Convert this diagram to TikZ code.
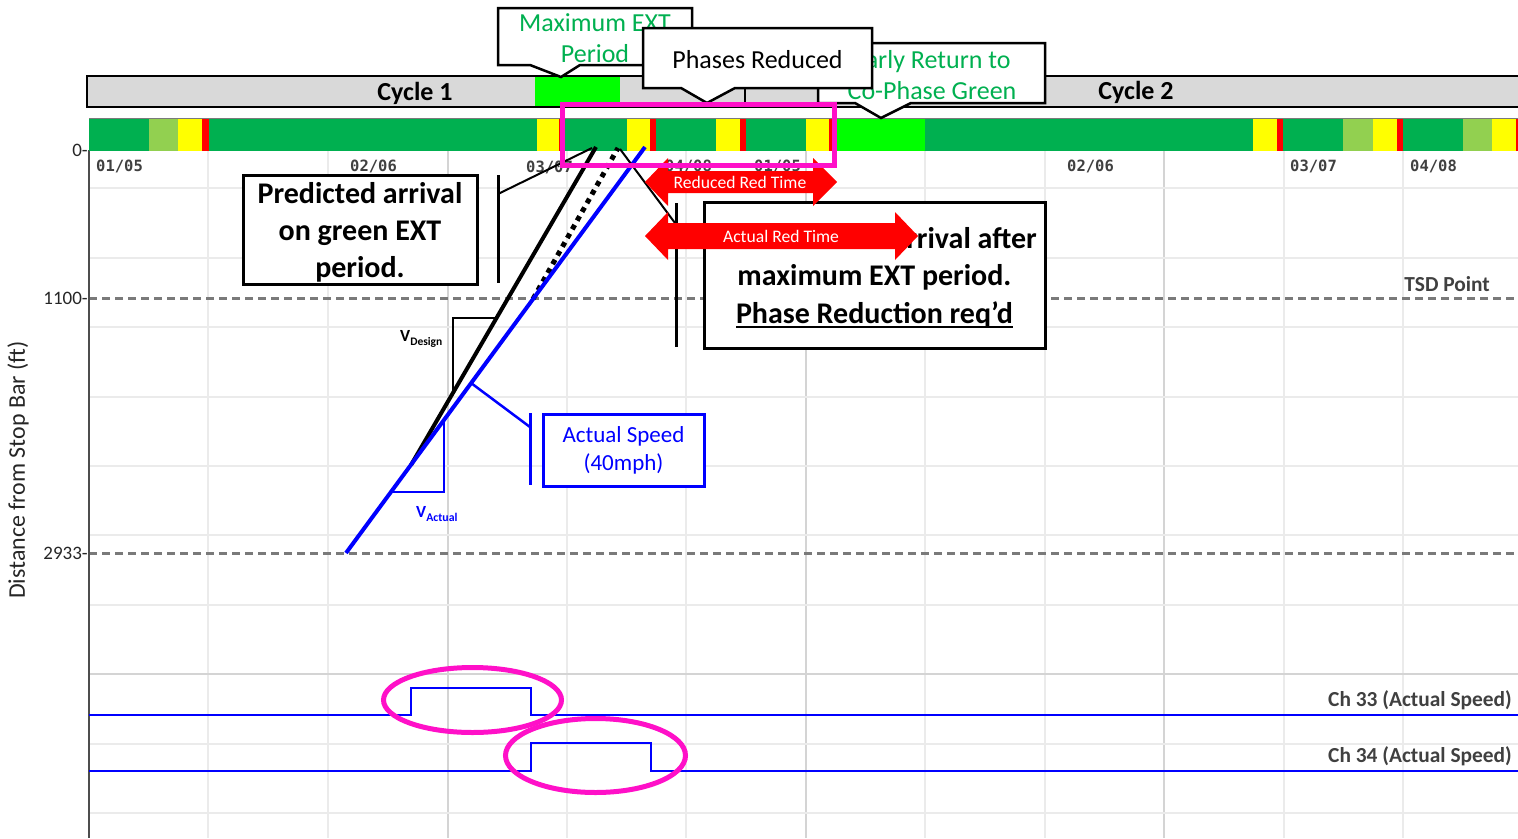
\documentclass[tikz,border=0pt]{standalone}
\usepackage{fontspec}
\setmainfont{Carlito}
\newfontfamily\datefont{DejaVu Sans Mono}
\definecolor{sgG}{HTML}{00B050}
\definecolor{sgL}{HTML}{92D050}
\definecolor{sgY}{HTML}{FFFF00}
\definecolor{sgR}{HTML}{FF0000}
\definecolor{sgB}{HTML}{00FF00}
\definecolor{barGray}{HTML}{D9D9D9}
\definecolor{gridLight}{HTML}{EBEBEB}
\definecolor{gridDark}{HTML}{D4D4D4}
\definecolor{labGray}{HTML}{404040}
\definecolor{axisGray}{HTML}{4D4D4D}
\definecolor{dashGray}{HTML}{7A7A7A}
\definecolor{hot}{RGB}{255,16,200}
\definecolor{txtGreen}{HTML}{00B050}
\definecolor{vblue}{HTML}{0000FF}
\newsavebox\ulbox
\newcommand\ulinetext[1]{\sbox\ulbox{#1}\rlap{\rule[-5pt]{\wd\ulbox}{2.4pt}}\usebox\ulbox}
\tikzset{
  gridline/.style={draw=gridLight, line width=1.3},
  gridmajor/.style={draw=gridDark, line width=1.5},
  tsdline/.style={draw=dashGray, line width=3, dash pattern=on 8pt off 5pt},
  ticklab/.style={anchor=east, inner sep=0, text=black!85, font=\fontsize{19}{19}\selectfont},
  cyclab/.style={inner sep=0, font=\bfseries\fontsize{26}{26}\selectfont},
  datelab/.style={anchor=west, inner sep=0, text=labGray, font=\datefont\bfseries\fontsize{15.5}{15.5}\selectfont},
  chanlab/.style={anchor=east, inner sep=0, text=labGray, font=\bfseries\fontsize{21.4}{21.4}\selectfont},
  callout/.style={draw=black, fill=white, line width=2.5, line join=miter},
  calltext/.style={align=center, inner sep=0, font=\fontsize{26}{31}\selectfont},
  notebox/.style={draw=black, fill=white, line width=3, inner sep=0, align=center,
                  font=\bfseries\fontsize{30}{37}\selectfont},
  redarrow/.style={fill=sgR},
  redtext/.style={inner sep=0, text=white, font=\fontsize{17.6}{17.6}\selectfont},
  hilite/.style={draw=hot, line width=5},
  thinline/.style={line width=1.3},
  pulse/.style={draw=vblue, line width=2.6},
}
\begin{document}
\begin{tikzpicture}[x=1pt,y=-1pt]
\useasboundingbox (0,0) rectangle (1518,838);
\fill[white] (0,0) rectangle (1518,838);

% chart grid
\foreach \gx in {208,328,567,686,925,1045,1284,1403}
  \draw[gridline] (\gx,151) -- (\gx,838);
\foreach \gx in {448,806,1164}
  \draw[gridmajor] (\gx,151) -- (\gx,838);
\foreach \gy in {188,258,327,397,466,535,605,744,813}
  \draw[gridline] (89,\gy) -- (1518,\gy);
\draw[gridmajor] (89,674) -- (1518,674);

% distance markers
\draw[tsdline] (89,298) -- (1518,298);
\draw[tsdline] (89,553) -- (1518,553);

% vertical axis
\draw[axisGray, line width=2] (89,150) -- (89,838);
\node[ticklab] (t0) at (88,150) {0-};
\node[ticklab] (t1100) at (88,298) {1100-};
\node[ticklab] (t2933) at (88,553) {2933-};
\node[rotate=90, inner sep=0, text=black!85, font=\fontsize{23.9}{23.9}\selectfont] (ytitle) at (18,470) {Distance from Stop Bar (ft)};

% cycle bar
\draw[fill=barGray, line width=2] (87,76) rectangle (1530,107);
\fill[sgB] (535,77) rectangle (620,106);
\draw[line width=1.5] (745,76) -- (745,107);
\draw[line width=1.5] (818,76) -- (818,107);
\node[cyclab] (cyc1) at (415,93) {Cycle 1};
\node[cyclab] (cyc2) at (1136,92) {Cycle 2};

% signal state bar
\draw[dashGray, line width=1] (89,118.5) -- (1518,118.5);
\foreach \xa/\xb/\sc in {89/149/sgG,149/178/sgL,178/202/sgY,202/209/sgR,209/537/sgG,
    537/559/sgY,559/562/sgR,562/627/sgG,627/650/sgY,650/656/sgR,656/716/sgG,716/740/sgY,
    740/746/sgR,746/806/sgG,806/829/sgY,829/833/sgR,833/925/sgB,925/1253/sgG,1253/1277/sgY,
    1277/1283/sgR,1283/1343/sgG,1343/1373/sgL,1373/1397/sgY,1397/1403/sgR,1403/1463/sgG,
    1463/1492/sgL,1492/1516/sgY,1516/1518/sgR}
  \fill[\sc] (\xa,119) rectangle (\xb,151);

% phase labels
\node[datelab] (d1) at (96,166.5) {01/05};
\node[datelab] (d2) at (350,166.5) {02/06};
\node[datelab] (d3) at (526,167.5) {03/07};
\node[datelab] (d4) at (665,166.5) {04/08};
\node[datelab] (d5) at (754,166.5) {01/05};
\node[datelab] (d6) at (1067,166.5) {02/06};
\node[datelab] (d7) at (1290,166.5) {03/07};
\node[datelab] (d8) at (1410,166.5) {04/08};

% distance labels
\node[chanlab, anchor=east] (tsd) at (1490,284) {TSD Point};

% trajectories
\coordinate (actStart) at (346,553);
\coordinate (actEnd) at (645,147);
\coordinate (desStart) at (411,465);
\coordinate (desEnd) at (596,147);
\coordinate (dotStart) at (533,299);
\coordinate (dotEnd) at (618,148);
\draw[line width=4] (desStart) -- (desEnd);
\draw[line width=5, dash pattern=on 5pt off 5pt] (dotStart) -- (dotEnd);
\draw[vblue, line width=4] (actStart) -- (actEnd);

% speed triangles
\draw[thinline] (496,318) -- (453,318) -- (453,393);
\draw[thinline, vblue] (444,420) -- (444,492) -- (391,492);
\node[anchor=west, inner sep=0, font=\bfseries\fontsize{17}{17}\selectfont] (vdes) at (400,339)
  {V\raisebox{-3.5pt}{\fontsize{11.5}{11.5}\selectfont Design}};
\node[anchor=west, inner sep=0, text=vblue, font=\bfseries\fontsize{17}{17}\selectfont] (vact) at (416,514)
  {V\raisebox{-3.5pt}{\fontsize{11.8}{11.8}\selectfont Actual}};

% predicted arrival note
\node[notebox, minimum width=234, minimum height=109] (pred) at (360,229.5) {};
\node[inner sep=0, align=center, font=\bfseries\fontsize{30}{37}\selectfont] (predtxt) at (360,232.5)
  {Predicted arrival\\on green EXT\\period.};
\coordinate (predBrTop) at (498,175);
\coordinate (predBrBot) at (498,283);
\coordinate (predBrMid) at (498,194);
\draw[line width=3] (predBrTop) -- (predBrBot);
\draw[line width=2] (predBrMid) -- (592,148);

% late arrival note
\node[notebox, minimum width=341, minimum height=146] (late) at (874.5,275) {};
\node[inner sep=0, align=center, font=\bfseries\fontsize{30}{37.5}\selectfont] (latetxt) at (874.5,277.5)
  {Predicted late arrival after\\maximum EXT period.\\\ulinetext{Phase Reduction req’d}};
\coordinate (lateBrTop) at (676,203);
\coordinate (lateBrBot) at (676,347);
\coordinate (lateBrMid) at (675,223);
\draw[line width=3] (lateBrTop) -- (lateBrBot);
\draw[line width=2] (dotEnd) ++(2,1) -- (lateBrMid);

% actual speed note
\node[draw=vblue, line width=3, fill=white, minimum width=161, minimum height=72, inner sep=0,
      align=center, text=vblue, font=\fontsize{23}{28}\selectfont] (speed) at (623.5,450.5)
  {Actual Speed\\(40mph)};
\coordinate (spdBrTop) at (530,413);
\coordinate (spdBrBot) at (530,485);
\coordinate (spdBrMid) at (530,427);
\coordinate (spdOnLine) at (471,383);
\draw[vblue, line width=3] (spdBrTop) -- (spdBrBot);
\draw[vblue, line width=2.5] (spdBrMid) -- (spdOnLine);

% red time arrows
\fill[redarrow] (645,182) -- (668,158) -- (668,171) -- (813,171) -- (813,158) -- (837,182)
  -- (813,206) -- (813,193) -- (668,193) -- (668,206) -- cycle;
\node[redtext] (redRed) at (740,182) {Reduced Red Time};
\fill[redarrow] (645,236) -- (668,212) -- (668,223) -- (895,223) -- (895,212) -- (918,236)
  -- (895,260) -- (895,249) -- (668,249) -- (668,260) -- cycle;
\node[redtext] (actRed) at (781,236) {Actual Red Time};

% callouts over the cycle bar
\draw[callout] (498,8) -- (692,8) -- (692,65) -- (580,65) -- (561,77) -- (530,65) -- (498,65) -- cycle;
\node[calltext, text=txtGreen] (maxext) at (595,38) {Maximum EXT\\Period};
\draw[callout] (818,43) -- (1045,43) -- (1045,103) -- (911,103) -- (881,118) -- (855,103) -- (818,103) -- cycle;
\node[calltext, text=txtGreen] (early) at (932,75) {Early Return to\\Co-Phase Green};
\draw[callout] (643,28) -- (872,28) -- (872,88) -- (735,88) -- (707,103) -- (681,88) -- (643,88) -- cycle;
\node[calltext] (reduced) at (757.5,60) {Phases Reduced};

% highlight of the reduced phases
\draw[hilite] (562.5,104.5) rectangle (834.5,165.5);

% detector channels
\draw[pulse] (89,715) -- (411,715) -- (411,688) -- (531,688) -- (531,715) -- (1518,715);
\draw[pulse] (89,771) -- (531,771) -- (531,743) -- (651,743) -- (651,771) -- (1518,771);
\node[chanlab] (ch33) at (1512,700) {Ch 33 (Actual Speed)};
\node[chanlab] (ch34) at (1512,756) {Ch 34 (Actual Speed)};
\draw[hilite] (472.5,700) ellipse [x radius=89, y radius=32.5];
\draw[hilite] (595.5,755.5) ellipse [x radius=90, y radius=37];
\end{tikzpicture}
\end{document}
